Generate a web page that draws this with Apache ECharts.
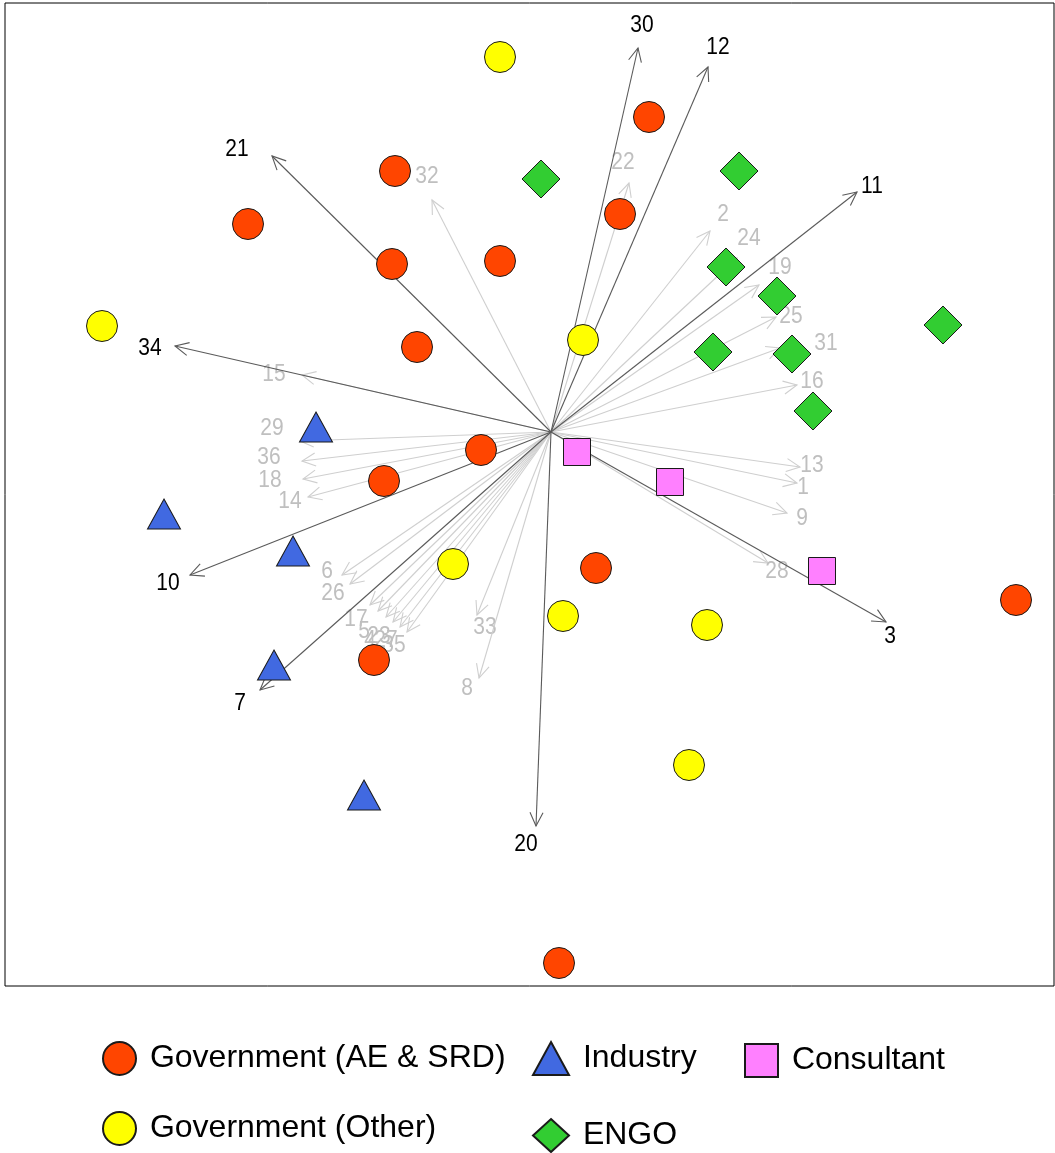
<!DOCTYPE html>
<html>
<head>
<meta charset="utf-8">
<script src="https://cdn.jsdelivr.net/npm/echarts@6/dist/echarts.min.js"></script>
<style>
  html, body { margin: 0; padding: 0; background: #fff; }
  #chart { width: 1055px; height: 1153px; }
</style>
</head>
<body>
<div id="chart"></div>
<script>
// Ordination site scores by stakeholder group (axis 1, axis 2)
const govAE = [
  [0.98, 3.15], [-1.56, 2.61], [0.69, 2.18], [-3.03, 2.08], [-1.59, 1.68],
  [-0.51, 1.71], [-1.34, 0.85], [-0.70, -0.18], [-1.67, -0.49], [0.45, -1.36],
  [-1.77, -2.28], [4.65, -1.68], [0.08, -5.31]
];
const govOther = [
  [-0.51, 3.75], [-4.49, 1.06], [0.32, 0.92], [-0.98, -1.32], [0.12, -1.84],
  [1.56, -1.93], [1.38, -3.33]
];
const industry = [
  [-2.35, 0.05], [-3.87, -0.82], [-2.58, -1.19], [-2.77, -2.33], [-1.87, -3.63]
];
const engo = [
  [-0.10, 2.53], [1.88, 2.61], [1.75, 1.65], [2.26, 1.36], [3.92, 1.07],
  [1.62, 0.80], [2.41, 0.78], [2.62, 0.21]
];
const consultant = [
  [0.26, -0.20], [1.19, -0.50], [2.71, -1.39]
];

// Statement vectors that are significant (dark arrows)
const strongVars = ['30', '12', '21', '11', '34', '10', '7', '20', '3'];
const strongTips = [
  [0.87, 3.84], [1.57, 3.65], [-2.79, 2.76], [3.06, 2.40], [-3.76, 0.86],
  [-3.61, -1.43], [-2.91, -2.58], [-0.15, -3.94], [3.35, -1.90]
];
const strongLabelAt = [
  [0.91, 4.06], [1.67, 3.84], [-3.14, 2.82], [3.21, 2.45], [-4.01, 0.83],
  [-3.83, -1.52], [-3.11, -2.72], [-0.25, -4.13], [3.39, -2.05]
];

// Remaining statement vectors (light arrows)
const weakVars = [
  '32', '22', '2', '24', '19', '25', '31', '16', '13', '1', '9', '28',
  '15', '29', '36', '18', '14', '6', '26', '17', '5', '4', '23', '27', '35', '33', '8'
];
const weakTips = [
  [-1.19, 2.32], [0.78, 2.49], [1.59, 2.01], [1.86, 1.74], [2.08, 1.47], [2.25, 1.15],
  [2.29, 0.84], [2.46, 0.47], [2.49, -0.35], [2.46, -0.51], [2.36, -0.81], [2.17, -1.31],
  [-2.49, 0.57], [-2.51, -0.09], [-2.49, -0.29], [-2.48, -0.47], [-2.43, -0.65],
  [-2.09, -1.43], [-2.01, -1.52], [-1.81, -1.73], [-1.73, -1.79], [-1.65, -1.85],
  [-1.58, -1.90], [-1.51, -1.95], [-1.44, -2.00], [-0.74, -1.83], [-0.72, -2.46]
];
const weakLabelAt = [
  [-1.24, 2.55], [0.72, 2.69], [1.72, 2.17], [1.98, 1.93], [2.29, 1.64], [2.40, 1.15],
  [2.75, 0.88], [2.61, 0.50], [2.61, -0.34], [2.52, -0.56], [2.51, -0.87], [2.26, -1.40],
  [-2.77, 0.57], [-2.79, 0.03], [-2.82, -0.26], [-2.81, -0.49], [-2.61, -0.70],
  [-2.24, -1.40], [-2.18, -1.62], [-1.95, -1.88], [-1.87, -2.00], [-1.81, -2.09],
  [-1.72, -2.05], [-1.65, -2.09], [-1.57, -2.14], [-0.66, -1.96], [-0.84, -2.57]
];

const FONT = '"Liberation Sans", Arial, sans-serif';

function vectorSeries(names, tips, labelAt, lineColor, textColor, z) {
  const data = tips.map((t, i) => [t[0], t[1], labelAt[i][0], labelAt[i][1]]);
  return {
    type: 'custom',
    z: z,
    silent: true,
    data: data,
    encode: { x: [0, 2], y: [1, 3] },
    renderItem: function (params, api) {
      const o = api.coord([0, 0]);
      const t = api.coord([api.value(0), api.value(1)]);
      const l = api.coord([api.value(2), api.value(3)]);
      const ang = Math.atan2(t[1] - o[1], t[0] - o[0]);
      const len = 15, spread = 0.45;
      const a1 = [t[0] - len * Math.cos(ang - spread), t[1] - len * Math.sin(ang - spread)];
      const a2 = [t[0] - len * Math.cos(ang + spread), t[1] - len * Math.sin(ang + spread)];
      return {
        type: 'group',
        children: [
          { type: 'line', shape: { x1: o[0], y1: o[1], x2: t[0], y2: t[1] },
            style: { stroke: lineColor, lineWidth: 1.1 } },
          { type: 'polyline', shape: { points: [a1, t, a2] },
            style: { stroke: lineColor, lineWidth: 1.1, fill: null } },
          { type: 'text', x: l[0], y: l[1], scaleY: 1.1,
            style: { text: names[params.dataIndex], fill: textColor, font: '21px ' + FONT,
                     align: 'center', verticalAlign: 'middle' } }
        ]
      };
    }
  };
}

function groupSeries(name, data, symbol, size, color) {
  return {
    name: name,
    type: 'scatter',
    z: 5,
    data: data,
    symbol: symbol,
    symbolSize: size,
    itemStyle: { color: color, borderColor: '#1a1a1a', borderWidth: 1, opacity: 1 },
    emphasis: { disabled: true }
  };
}

const legendText = { fontSize: 32, fontFamily: FONT, color: '#000', lineHeight: 34 };
const legendBase = {
  orient: 'vertical',
  itemWidth: 33,
  itemHeight: 33,
  selectedMode: false,
  formatter: n => ' ' + n,
  textStyle: legendText,
  padding: 0
};

const chart = echarts.init(document.getElementById('chart'), null, { renderer: 'canvas' });
chart.setOption({
  animation: false,
  backgroundColor: '#fff',
  grid: {
    left: 5, top: 3, width: 1049, height: 983,
    show: true, borderColor: '#000', borderWidth: 1, backgroundColor: 'transparent'
  },
  xAxis: {
    type: 'value', min: -5.46, max: 5.03,
    axisLine: { show: false }, axisTick: { show: false },
    axisLabel: { show: false }, splitLine: { show: false }
  },
  yAxis: {
    type: 'value', min: -5.54, max: 4.29,
    axisLine: { show: false }, axisTick: { show: false },
    axisLabel: { show: false }, splitLine: { show: false }
  },
  legend: [
    Object.assign({}, legendBase, { left: 102, top: 1041, itemGap: 35,
      data: ['Government (AE & SRD)', 'Government (Other)'] }),
    Object.assign({}, legendBase, { left: 532, top: 1041, itemGap: 42, itemWidth: 36,
      data: ['Industry', 'ENGO'] }),
    Object.assign({}, legendBase, { left: 744, top: 1043, itemGap: 36,
      data: ['Consultant'] })
  ],
  series: [
    vectorSeries(weakVars, weakTips, weakLabelAt, '#cfcfcf', '#bfbfbf', 2),
    vectorSeries(strongVars, strongTips, strongLabelAt, '#5a5a5a', '#000', 3),
    groupSeries('Government (AE & SRD)', govAE, 'circle', 31, '#FF4500'),
    groupSeries('Government (Other)', govOther, 'circle', 31, '#FFFF00'),
    groupSeries('Industry', industry, 'triangle', [33, 30], '#4169E1'),
    groupSeries('ENGO', engo, 'diamond', 38, '#32CD32'),
    groupSeries('Consultant', consultant, 'rect', 27, '#FF80FF')
  ]
});
</script>
</body>
</html>
